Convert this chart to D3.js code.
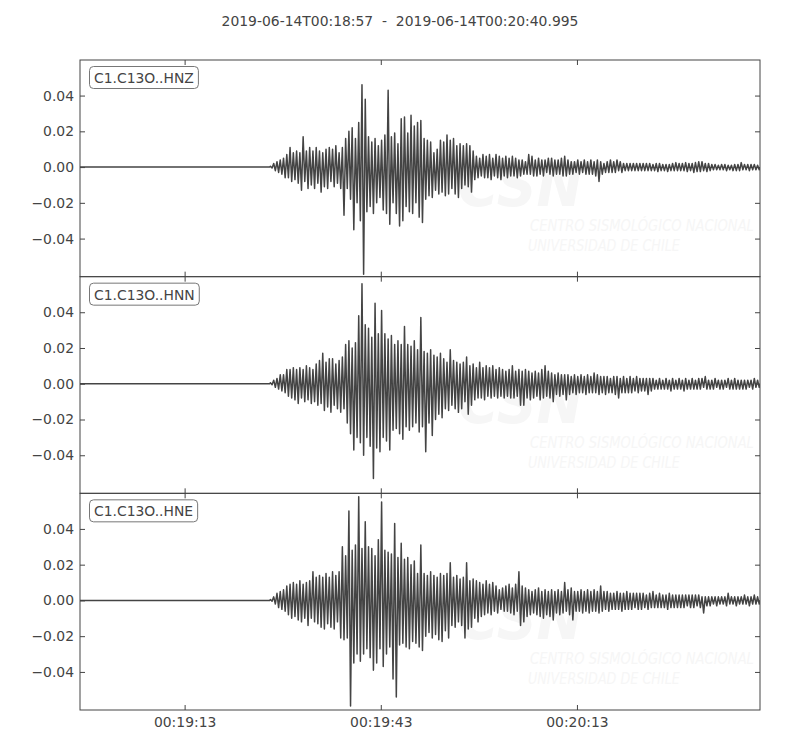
<!DOCTYPE html>
<html>
<head>
<meta charset="utf-8">
<script src="https://cdn.jsdelivr.net/npm/d3@7"></script>
<style>
  body { margin: 0; background: #fff; }
  svg { display: block; font-family: "DejaVu Sans", sans-serif; }
</style>
</head>
<body>
<svg id="svg" width="800" height="750"></svg>
<script>
// time window of the record
const startTime = "2019-06-14T00:18:57";
const endTime = "2019-06-14T00:20:40.995";
const onsetTime = "2019-06-14T00:19:26";   // first bin of the amplitude arrays
const binSeconds = 0.5;
const ampUnit = 0.001;                       // arrays below are in units of 1e-3

const channels = ["C1.C13O..HNZ", "C1.C13O..HNN", "C1.C13O..HNE"];
const xTickLabels = ["00:19:13", "00:19:43", "00:20:13"];
const yTicks = [-0.04, -0.02, 0.00, 0.02, 0.04];
const yRange = [-0.0613, 0.0599];

// max / min of the trace inside each 0.5 s bin
const hnzMax = [0.5,2,3,4,5,7,11,8,9,8,17,9,11,9,11,9,8,10,11,10,12,8,11,16,20,22,16,25,46,38,
  17,14,16,12,15,18,43,17,19,13,27,28,19,29,23,25,26,16,15,14,8,10,15,14,18,15,16,12,13,12,
  13,12,9,6,5,7,6,7,5,7,6,5,6,5,6,5,4,4,3,7,6,4,5,4,4,5,5,4,4,5,
  6,4,3,3,4,3,4,3,4,3,4,3,2,3,4,3,4,3,2,2,2,2,2,2,2,2,2,1.5,2,2,
  1.5,1.5,1.5,2,2.5,2,2,2.5,2,2,2.5,3,3,2,2,1.5,1.5,1,1.5,1.5,1,1,1.5,1.5,2.5,1.5,1.5,1.5,1.5,1];
const hnzMin = [-0.5,-2,-3,-4,-6,-6,-8,-7,-9,-13,-8,-12,-10,-12,-9,-14,-11,-12,-8,-11,-9,-12,-27,-12,-18,-35,-20,-30,-60,-25,
  -22,-26,-20,-17,-24,-26,-32,-20,-26,-33,-30,-22,-25,-26,-20,-28,-31,-18,-16,-17,-13,-15,-14,-16,-15,-12,-15,-17,-12,-10,
  -11,-14,-7,-6,-5,-6,-6,-7,-5,-6,-7,-5,-6,-5,-5,-6,-5,-4,-4,-4,-5,-5,-4,-5,-3,-4,-5,-4,-4,-5,
  -5,-4,-4,-3,-4,-3,-4,-4,-4,-5,-8,-4,-3,-3,-3,-3,-2,-3,-2,-2,-2,-2,-2,-2,-2,-2,-2,-2,-2.5,-2,
  -2,-2.5,-2,-2,-2,-2,-2,-2.5,-2,-3,-2.5,-2.5,-2,-2.5,-2,-1.5,-1.5,-1.5,-1.5,-2,-1.5,-2,-2,-2,-1.5,-1.5,-2,-1.5,-1.5,-1.5];

const hnnMax = [0.5,2,3,5,5,8,8,9,8,9,8,10,9,8,11,13,17,12,14,14,11,13,15,22,24,20,23,38,56,33,
  31,26,45,28,41,28,25,27,22,24,22,32,22,21,24,19,37,18,17,19,16,15,17,14,12,19,13,12,11,12,
  15,10,11,9,12,9,10,9,10,8,9,8,7,8,10,7,8,7,8,7,6,7,6,8,10,7,6,5,6,5,
  5,5,4,5,4,5,4,5,4,6,5,4,4,4,3,4,4,3,4,3,4,3,4,3,3,3,3,3,2,3,
  2,3,2,3,2,3,2,3,2,3,2,3,3,4,2,2,3,2,2,2,3,2,3,2,2,2,2,2,3,2];
const hnnMin = [-0.5,-2,-3,-4,-5,-7,-8,-9,-11,-8,-10,-9,-11,-10,-12,-11,-15,-13,-16,-12,-14,-16,-14,-22,-28,-37,-30,-33,-40,-30,
  -35,-53,-36,-38,-30,-32,-37,-26,-25,-28,-31,-24,-26,-24,-22,-27,-24,-38,-22,-29,-20,-17,-19,-14,-15,-12,-14,-16,-14,-10,
  -17,-12,-9,-8,-8,-9,-7,-8,-7,-8,-7,-8,-7,-8,-8,-7,-12,-12,-8,-9,-8,-7,-9,-8,-7,-8,-10,-6,-7,-6,
  -9,-6,-5,-6,-5,-5,-6,-5,-5,-5,-6,-5,-6,-5,-5,-6,-8,-5,-5,-5,-5,-4,-5,-4,-4,-6,-4,-3,-3,-3,
  -3,-3,-4,-3,-3,-3,-4,-3,-3,-3,-3,-3,-2,-3,-3,-3,-2,-3,-3,-2,-3,-3,-3,-3,-3,-3,-2,-3,-2,-2];

const hneMax = [0.5,2,4,5,6,8,9,10,9,11,9,10,11,16,13,14,13,15,13,16,14,16,30,25,50,28,31,58,29,44,
  30,29,25,34,55,28,27,26,43,24,32,23,24,20,22,15,31,15,14,16,14,13,15,14,15,21,13,14,12,13,
  21,11,12,11,10,9,11,9,10,8,6,7,8,9,7,9,16,8,7,6,5,6,7,5,6,5,6,5,6,5,
  10,6,7,5,5,6,5,6,5,6,5,8,5,5,4,4,5,4,4,5,4,4,4,4,4,3,4,5,3,4,
  3,3,4,3,3,3,3,3,3,3,3,3,2,2,2,2,2,2,2,2,4,2,2,2,2,3,2,2,3,2];
const hneMin = [-0.5,-2,-4,-5,-6,-8,-10,-9,-11,-12,-10,-14,-10,-12,-13,-15,-16,-13,-15,-16,-12,-21,-22,-21,-59,-35,-30,-34,-30,-27,
  -32,-39,-35,-27,-37,-30,-26,-44,-54,-25,-24,-26,-27,-23,-24,-26,-28,-20,-18,-21,-19,-22,-23,-17,-21,-14,-15,-12,-14,-21,
  -16,-15,-10,-12,-9,-8,-7,-8,-6,-7,-5,-6,-6,-7,-8,-6,-14,-12,-9,-8,-7,-8,-9,-10,-8,-9,-11,-7,-8,-7,
  -6,-8,-11,-6,-6,-7,-6,-7,-6,-6,-7,-6,-5,-6,-5,-5,-5,-6,-5,-5,-5,-4,-5,-5,-4,-5,-4,-4,-4,-4,
  -4,-5,-4,-4,-4,-4,-4,-3,-4,-4,-3,-4,-7,-3,-3,-2,-3,-2,-2,-3,-2,-2,-3,-2,-2,-2,-3,-2,-2,-2];

const traces = [
  {name: channels[0], max: hnzMax, min: hnzMin},
  {name: channels[1], max: hnnMax, min: hnnMin},
  {name: channels[2], max: hneMax, min: hneMin}
];

const parseFull = d3.utcParse("%Y-%m-%dT%H:%M:%S.%L");
const parseSec = d3.utcParse("%Y-%m-%dT%H:%M:%S");
function parseTime(s) { return parseFull(s) || parseSec(s); }

const t0 = parseTime(startTime);
const t1 = parseTime(endTime);
const tOnset = parseTime(onsetTime);
const dayPrefix = startTime.slice(0, 11);

var svg = d3.select('svg');
var plotLeft = 80, plotRight = 760, plotTop = 60, plotBottom = 710;
var panelH = (plotBottom - plotTop) / traces.length;
var fontSize = 13.9;
var ink = '#444';

var x = d3.scaleUtc().domain([t0, t1]).range([plotLeft, plotRight]);
var xTickValues = xTickLabels.map(s => parseTime(dayPrefix + s));

function styleAxis(a) {
  a.select('.domain').remove();
  a.attr('font-family', null).attr('font-size', null);
  a.selectAll('.tick line').attr('stroke', ink);
  a.selectAll('.tick text').attr('fill', ink).attr('font-size', fontSize);
}

// watermark line squeezed to a given width
function wmText(parent, str, px, py, size, width) {
  var t = parent.append('text').attr('font-size', size).text(str);
  var sx = width / t.node().getComputedTextLength();
  t.attr('transform', `translate(${px}, ${py}) scale(${sx}, 1)`);
}

// title
svg.append('text')
  .attr('x', 400)
  .attr('y', 26)
  .attr('text-anchor', 'middle')
  .style('white-space', 'pre')
  .attr('fill', ink)
  .attr('font-size', fontSize)
  .text(startTime + '  -  ' + endTime);

traces.forEach(function (tr, k) {
  var py = plotTop + k * panelH;
  var y = d3.scaleLinear().domain(yRange).range([py + panelH, py]);
  var g = svg.append('g');

  // very faint CSN watermark
  var wm = g.append('g').attr('fill', '#f6f6f6').attr('font-style', 'italic');
  var csn = wm.append('g').attr('font-weight', 'bold');
  wmText(csn, 'CSN', 458, py + 146, 60, 125);
  wmText(wm, 'CENTRO SISMOLÓGICO NACIONAL', 530, py + 171, 15, 224);
  wmText(wm, 'UNIVERSIDAD DE CHILE', 528, py + 191, 15, 152);

  // trace: quiet part, then max/min of every bin
  var pts = [[t0, 0], [tOnset, 0]];
  tr.max.forEach(function (v, i) {
    var tb = +tOnset + i * binSeconds * 1000;
    pts.push([new Date(tb + binSeconds * 250), v * ampUnit]);
    pts.push([new Date(tb + binSeconds * 750), tr.min[i] * ampUnit]);
  });
  pts.push([t1, 0]);

  var clipId = 'clip' + k;
  svg.append('clipPath').attr('id', clipId)
    .append('rect').attr('x', plotLeft).attr('y', py).attr('width', plotRight - plotLeft).attr('height', panelH);

  g.append('path')
    .datum(pts)
    .attr('clip-path', 'url(#' + clipId + ')')
    .attr('fill', 'none')
    .attr('stroke', '#444')
    .attr('stroke-width', 1.5)
    .attr('stroke-linejoin', 'round')
    .attr('d', d3.line().x(d => x(d[0])).y(d => y(d[1])));

  // axes with inward ticks
  g.append('g')
    .attr('transform', `translate(${plotLeft}, 0)`)
    .call(d3.axisLeft(y).tickValues(yTicks).tickFormat(d3.format('.2f'))
      .tickSizeInner(-5).tickSizeOuter(0).tickPadding(6))
    .call(styleAxis);
  g.append('g')
    .attr('transform', `translate(${plotRight}, 0)`)
    .call(d3.axisRight(y).tickValues(yTicks).tickFormat('').tickSizeInner(-5).tickSizeOuter(0))
    .call(styleAxis);
  g.append('g')
    .attr('transform', `translate(0, ${py})`)
    .call(d3.axisTop(x).tickValues(xTickValues).tickFormat('').tickSizeInner(-5).tickSizeOuter(0))
    .call(styleAxis);
  var xb = d3.axisBottom(x).tickValues(xTickValues).tickSizeInner(-5).tickSizeOuter(0).tickPadding(7)
    .tickFormat(k === traces.length - 1 ? d3.utcFormat('%H:%M:%S') : '');
  g.append('g')
    .attr('transform', `translate(0, ${py + panelH})`)
    .call(xb)
    .call(styleAxis);

  g.append('rect')
    .attr('x', plotLeft).attr('y', py)
    .attr('width', plotRight - plotLeft).attr('height', panelH)
    .attr('fill', 'none').attr('stroke', ink).attr('stroke-width', 1);

  // channel label box
  var lab = g.append('g').attr('transform', `translate(${plotLeft + 10}, ${py + 7})`);
  var txt = lab.append('text')
    .attr('x', 4).attr('y', 16)
    .attr('font-size', fontSize).attr('fill', ink)
    .text(tr.name);
  var w = txt.node().getComputedTextLength();
  lab.insert('rect', 'text')
    .attr('x', -0.5).attr('y', -0.5)
    .attr('width', w + 9).attr('height', 22)
    .attr('rx', 4)
    .attr('fill', '#fff').attr('stroke', '#777').attr('stroke-width', 1);
});
</script>
</body>
</html>
